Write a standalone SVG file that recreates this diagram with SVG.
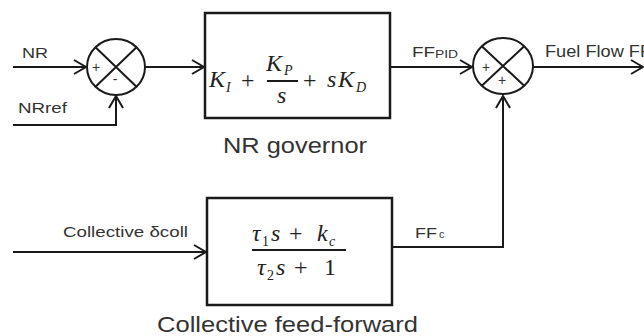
<svg xmlns="http://www.w3.org/2000/svg" width="644" height="336" viewBox="0 0 644 336">
<defs>
<marker id="arr" markerUnits="userSpaceOnUse" markerWidth="16" markerHeight="18" refX="13" refY="8" orient="auto">
<path d="M1,1 L13,8 L1,15" fill="none" stroke="#1a1a1a" stroke-width="2"/>
</marker>
<style>
.ln{fill:none;stroke:#1a1a1a;stroke-width:2}
.box{fill:#fff;stroke:#1a1a1a;stroke-width:2.5}
.sum{fill:#fff;stroke:#1a1a1a;stroke-width:2}
.lbl{font-family:"Liberation Sans",Arial,sans-serif;fill:#333}
.sg{font-family:"Liberation Sans",Arial,sans-serif;fill:#333;font-size:14px;text-anchor:middle}
.m{font-family:"Liberation Serif","Times New Roman",serif;font-style:italic;fill:#222;font-size:24px}
.mu{font-family:"Liberation Serif","Times New Roman",serif;fill:#222;font-size:24px}
.ms{font-family:"Liberation Serif","Times New Roman",serif;font-style:italic;fill:#222;font-size:14px}
.msu{font-family:"Liberation Serif","Times New Roman",serif;fill:#222;font-size:14px}
</style>
</defs>
<rect width="644" height="336" fill="#fff"/>
<g id="connectors">
<path class="ln" d="M13,67 H86" marker-end="url(#arr)"/>
<path class="ln" d="M13,125 H116 V96" marker-end="url(#arr)"/>
<path class="ln" d="M145,67 H204" marker-end="url(#arr)"/>
<path class="ln" d="M391,67 H472" marker-end="url(#arr)"/>
<path class="ln" d="M533,67 H643" marker-end="url(#arr)"/>
<path class="ln" d="M13,252 H206" marker-end="url(#arr)"/>
<path class="ln" d="M393,247 H503 V96" marker-end="url(#arr)"/>
</g>
<g id="sum1">
<ellipse class="sum" cx="116" cy="67" rx="29" ry="28"/>
<path class="ln" d="M95.5,47.2 L136.5,86.8 M136.5,47.2 L95.5,86.8"/>
<text class="sg" x="96" y="72">+</text>
<text class="sg" x="115" y="84">-</text>
</g>
<g id="sum2">
<ellipse class="sum" cx="503" cy="66" rx="30" ry="28"/>
<path class="ln" d="M481.8,46.2 L524.2,85.8 M524.2,46.2 L481.8,85.8"/>
<text class="sg" x="486" y="72">+</text>
<text class="sg" x="502" y="85">+</text>
</g>
<g id="nr-governor">
<rect class="box" x="205" y="13" width="185" height="105"/>
<text class="m" x="209" y="87">K</text>
<text class="ms" x="226" y="92">I</text>
<text class="mu" x="241" y="88">+</text>
<text class="m" x="266" y="71">K</text>
<text class="ms" x="284" y="75">P</text>
<line class="ln" x1="267" y1="81" x2="298" y2="81"/>
<text class="m" x="277" y="103">s</text>
<text class="mu" x="303" y="88">+</text>
<text class="m" x="327" y="87">s</text>
<text class="m" x="338" y="87">K</text>
<text class="ms" x="356" y="92">D</text>
<text class="lbl" x="223" y="153" font-size="22" textLength="144" lengthAdjust="spacingAndGlyphs">NR governor</text>
</g>
<g id="feed-forward">
<rect class="box" x="207" y="198" width="185" height="107"/>
<text class="m" x="252" y="241">τ</text>
<text class="msu" x="262" y="246">1</text>
<text class="m" x="271" y="241">s</text>
<text class="mu" x="289" y="241">+</text>
<text class="m" x="317" y="241">k</text>
<text class="ms" x="329" y="246">c</text>
<line class="ln" x1="252" y1="250" x2="346" y2="250"/>
<text class="m" x="257" y="275">τ</text>
<text class="msu" x="267" y="280">2</text>
<text class="m" x="276" y="275">s</text>
<text class="mu" x="294" y="275">+</text>
<text class="mu" x="324" y="275">1</text>
<text class="lbl" x="157" y="332" font-size="22" textLength="261" lengthAdjust="spacingAndGlyphs">Collective feed-forward</text>
</g>
<g id="labels">
<text class="lbl" x="22" y="58" font-size="15" textLength="26" lengthAdjust="spacingAndGlyphs">NR</text>
<text class="lbl" x="18" y="113" font-size="15" textLength="49" lengthAdjust="spacingAndGlyphs">NRref</text>
<text class="lbl" x="63" y="237" font-size="15" textLength="125" lengthAdjust="spacingAndGlyphs">Collective δcoll</text>
<text class="lbl" x="412" y="57" font-size="15" textLength="23" lengthAdjust="spacingAndGlyphs">FF</text>
<text class="lbl" x="435" y="58" font-size="10" textLength="23" lengthAdjust="spacingAndGlyphs">PID</text>
<text class="lbl" x="545" y="57" font-size="16" textLength="106" lengthAdjust="spacingAndGlyphs">Fuel Flow FF</text>
<text class="lbl" x="415" y="238" font-size="15" textLength="22" lengthAdjust="spacingAndGlyphs">FF</text>
<text class="lbl" x="439" y="238" font-size="11">c</text>
</g>
</svg>
